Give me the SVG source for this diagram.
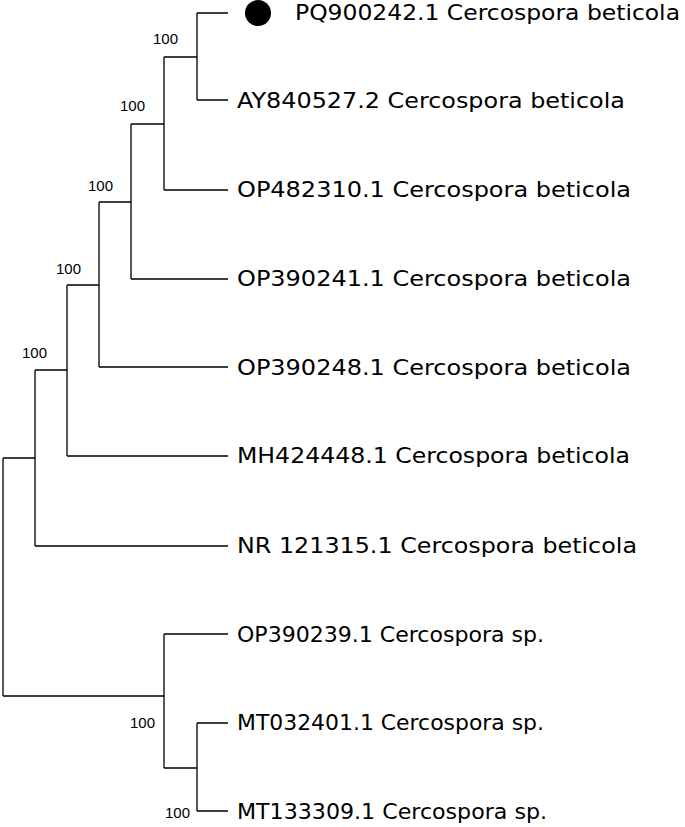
<svg xmlns="http://www.w3.org/2000/svg" width="685" height="827" viewBox="0 0 685 827">
<style>
.e{stroke:#000;stroke-width:1.3;fill:none}
.l{font-family:"DejaVu Sans","Liberation Sans",sans-serif;font-size:21px;fill:#000}
.b{font-family:"Liberation Sans",Arial,sans-serif;font-size:15px;fill:#000}
</style>
<rect width="685" height="827" fill="#fff"/>
<g id="edges">
<path class="e" d="M197,13V100M197,13H228M197,100H228"/>
<path class="e" d="M164,57V190M164,57H197M164,190H228"/>
<path class="e" d="M131,124V279M131,124H164M131,279H228"/>
<path class="e" d="M99,202V367M99,202H131M99,367H228"/>
<path class="e" d="M67,285V456M67,285H99M67,456H228"/>
<path class="e" d="M35,370V546M35,370H67M35,546H228"/>
<path class="e" d="M3,458V696M3,458H35M3,696H164"/>
<path class="e" d="M164,634V768M164,634H228M164,768H197"/>
<path class="e" d="M197,723V811M197,723H228M197,811H228"/>
</g>
<g id="marker"><circle cx="258" cy="13" r="13" fill="#000"/></g>
<g id="leaves">
<text class="l" x="295" y="20" textLength="385" lengthAdjust="spacingAndGlyphs">PQ900242.1 Cercospora beticola</text>
<text class="l" x="237" y="108" textLength="388" lengthAdjust="spacingAndGlyphs">AY840527.2 Cercospora beticola</text>
<text class="l" x="237" y="197" textLength="394" lengthAdjust="spacingAndGlyphs">OP482310.1 Cercospora beticola</text>
<text class="l" x="237" y="286" textLength="394" lengthAdjust="spacingAndGlyphs">OP390241.1 Cercospora beticola</text>
<text class="l" x="237" y="375" textLength="394" lengthAdjust="spacingAndGlyphs">OP390248.1 Cercospora beticola</text>
<text class="l" x="237" y="463" textLength="393" lengthAdjust="spacingAndGlyphs">MH424448.1 Cercospora beticola</text>
<text class="l" x="237" y="553" textLength="400" lengthAdjust="spacingAndGlyphs">NR 121315.1 Cercospora beticola</text>
<text class="l" x="237" y="642" textLength="307" lengthAdjust="spacingAndGlyphs">OP390239.1 Cercospora sp.</text>
<text class="l" x="237" y="730" textLength="307" lengthAdjust="spacingAndGlyphs">MT032401.1 Cercospora sp.</text>
<text class="l" x="237" y="819" textLength="310" lengthAdjust="spacingAndGlyphs">MT133309.1 Cercospora sp.</text>
</g>
<g id="support">
<text class="b" x="153" y="44">100</text>
<text class="b" x="120" y="111">100</text>
<text class="b" x="88" y="191">100</text>
<text class="b" x="56" y="274">100</text>
<text class="b" x="22" y="358">100</text>
<text class="b" x="130" y="728">100</text>
<text class="b" x="165" y="818">100</text>
</g>
</svg>
